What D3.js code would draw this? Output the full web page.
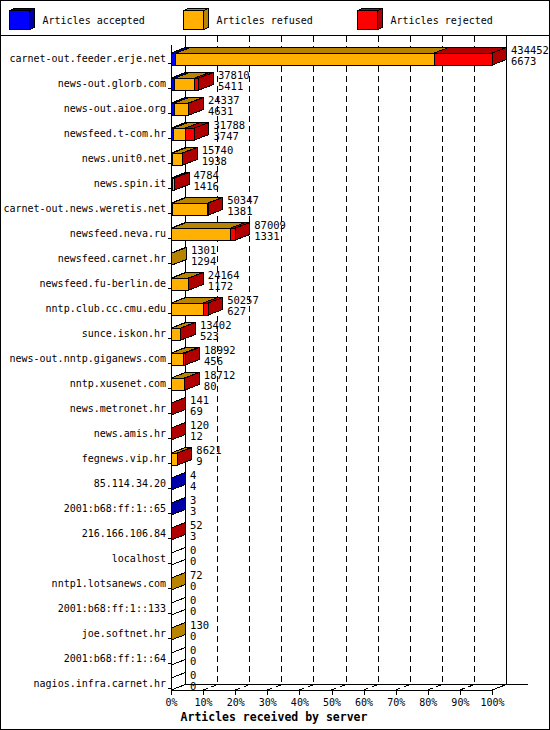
<!DOCTYPE html>
<html>
<head>
<meta charset="utf-8">
<script src="https://cdn.jsdelivr.net/npm/d3@7"></script>
<style>
    body { margin: 0; background: #fff; }
    text { font-family: "DejaVu Sans Mono", monospace; font-size: 10px; fill: #000; }
</style>
</head>
<body>
<svg id="chart" width="550" height="730"></svg>
<script>
// servers, sorted by accepted articles
const servers = [
    "carnet-out.feeder.erje.net", "news-out.glorb.com", "news-out.aioe.org",
    "newsfeed.t-com.hr", "news.unit0.net", "news.spin.it",
    "carnet-out.news.weretis.net", "newsfeed.neva.ru", "newsfeed.carnet.hr",
    "newsfeed.fu-berlin.de", "nntp.club.cc.cmu.edu", "sunce.iskon.hr",
    "news-out.nntp.giganews.com", "nntp.xusenet.com", "news.metronet.hr",
    "news.amis.hr", "fegnews.vip.hr", "85.114.34.20", "2001:b68:ff:1::65",
    "216.166.106.84", "localhost", "nntp1.lotsanews.com", "2001:b68:ff:1::133",
    "joe.softnet.hr", "2001:b68:ff:1::64", "nagios.infra.carnet.hr"
];
// numbers printed next to the bars
const offered = [434452, 37810, 24337, 31788, 15740, 4784, 50347, 87009, 1301,
    24164, 50257, 13402, 18992, 18712, 141, 120, 8621, 4, 3, 52, 0, 72, 0, 130, 0, 0];
const accepted = [6673, 5411, 4631, 3747, 1938, 1416, 1381, 1331, 1294,
    1172, 627, 523, 456, 80, 69, 12, 9, 4, 3, 3, 0, 0, 0, 0, 0, 0];
// split of the rest
const refused = [349500, 27000, 19200, 16000, 13300, 3000, 48500, 79500, 7,
    22500, 42800, 12500, 16500, 18200, 0, 0, 8200, 0, 0, 0, 0, 72, 0, 130, 0, 0];
const rejected = [78279, 5399, 506, 12041, 502, 368, 466, 6178, 0,
    492, 6830, 379, 2036, 432, 72, 108, 412, 0, 0, 49, 0, 0, 0, 0, 0, 0];
const pctTicks = [0, 10, 20, 30, 40, 50, 60, 70, 80, 90, 100];

const keys = ["accepted", "refused", "rejected"];
const legendNames = ["Articles accepted", "Articles refused", "Articles rejected"];
const fronts = { accepted: "#0000ff", refused: "#ffb000", rejected: "#ff0000" };
const darks = { accepted: "#0000a8", refused: "#b88400", rejected: "#b00000" };

const DX = 14.5, DY = -5.5, BAR_H = 12;
const floorY = 690;

const svg = d3.select("#chart").attr("shape-rendering", "crispEdges");

svg.append("rect").attr("width", 550).attr("height", 730).attr("fill", "#fff");
svg.append("rect").attr("x", 0.5).attr("y", 0.5).attr("width", 549).attr("height", 729)
    .attr("fill", "none").attr("stroke", "#000");

// legend
svg.append("line").attr("x1", 0).attr("x2", 550).attr("y1", 35.5).attr("y2", 35.5).attr("stroke", "#000");
const legend = svg.append("g")
    .selectAll("g")
    .data(keys)
    .join("g")
    .attr("transform", (d, i) => `translate(${9.5 + i * 174}, 10.5)`);
legend.append("polygon")
    .attr("points", `0,0 5,-2 25,-2 20,0`)
    .attr("fill", (d) => darks[d]).attr("stroke", "#000");
legend.append("polygon")
    .attr("points", `20,0 25,-2 25,17 20,19`)
    .attr("fill", (d) => darks[d]).attr("stroke", "#000");
legend.append("rect")
    .attr("width", 20).attr("height", 19)
    .attr("fill", (d) => fronts[d]).attr("stroke", "#000");
legend.append("text")
    .attr("x", 33).attr("y", 13.5)
    .text((d, i) => legendNames[i]);

// scales
const x = d3.scaleLinear().domain([0, d3.max(offered)]).range([171, 492]);
const pct = d3.scaleLinear().domain([0, 100]).range([171, 492]);
const y = d3.scaleBand().domain(servers).range([46.5, 696.5]);
const cy = (s) => y(s) + y.bandwidth() / 2;

// back walls and grid
svg.append("line").attr("x1", 171 + DX).attr("x2", 171 + DX).attr("y1", 36).attr("y2", floorY + DY).attr("stroke", "#000");
svg.append("line").attr("x1", 492 + DX).attr("x2", 492 + DX).attr("y1", 36).attr("y2", floorY + DY).attr("stroke", "#000");
svg.append("g")
    .selectAll("line")
    .data(pctTicks.slice(1, -1))
    .join("line")
    .attr("x1", (d) => pct(d) + DX).attr("x2", (d) => pct(d) + DX)
    .attr("y1", 36).attr("y2", floorY + DY)
    .attr("stroke", "#000").attr("stroke-dasharray", "6,4");

// floor
svg.append("line").attr("x1", 171 + DX).attr("x2", 528).attr("y1", floorY + DY).attr("y2", floorY + DY).attr("stroke", "#000");
svg.append("g")
    .selectAll("line")
    .data(pctTicks)
    .join("line")
    .attr("x1", (d) => pct(d)).attr("y1", floorY)
    .attr("x2", (d) => pct(d) + DX).attr("y2", floorY + DY)
    .attr("stroke", "#000")
    .attr("stroke-dasharray", (d) => (d === 0 || d === 100 ? null : "5,4"));

// front left axis
svg.append("line").attr("x1", 171).attr("x2", 171).attr("y1", 45).attr("y2", floorY).attr("stroke", "#000");

const xAxis = svg.append("g")
    .attr("transform", `translate(0, ${floorY})`)
    .call(d3.axisBottom(pct).tickValues(pctTicks).tickSize(5).tickSizeOuter(0).tickFormat((d) => d + "%"));
xAxis.attr("font-family", null).attr("font-size", null);
xAxis.selectAll("text").attr("y", 9);

const yAxis = svg.append("g")
    .attr("transform", "translate(171, 0)")
    .call(d3.axisLeft(y).tickSize(3).tickPadding(2).tickSizeOuter(0));
yAxis.attr("font-family", null).attr("font-size", null);
yAxis.select(".domain").remove();
// ticks sit a little below the label middle
yAxis.selectAll(".tick line").attr("y1", 4).attr("y2", 4);

svg.append("text")
    .attr("x", 274).attr("y", 721)
    .attr("text-anchor", "middle")
    .style("font-weight", "bold").style("font-size", "11.5px")
    .text("Articles received by server");

// stacked 3D bars
const rows = servers.map((s, i) => ({
    server: s,
    offered: offered[i],
    accepted: accepted[i],
    refused: refused[i],
    rejected: rejected[i],
}));
const series = d3.stack().keys(keys)(rows);

const bars = svg.append("g");
rows.forEach((r, i) => {
    const yt = cy(r.server) - BAR_H / 2;
    const yb = yt + BAR_H;
    const g = bars.append("g");
    let last = null;
    series.forEach((sr) => {
        const [v0, v1] = sr[i];
        if (v1 - v0 <= 0) return;
        const x0 = x(v0), x1 = x(v1);
        g.append("rect")
            .attr("x", x0).attr("y", yt)
            .attr("width", x1 - x0).attr("height", BAR_H)
            .attr("fill", fronts[sr.key]).attr("stroke", "#000");
        g.append("polygon")
            .attr("points", [[x0, yt], [x0 + DX, yt + DY], [x1 + DX, yt + DY], [x1, yt]].join(" "))
            .attr("fill", darks[sr.key]).attr("stroke", "#000");
        last = sr.key;
    });
    const xe = x(d3.sum(keys, (k) => r[k]));
    g.append("polygon")
        .attr("points", [[xe, yt], [xe + DX, yt + DY], [xe + DX, yb + DY], [xe, yb]].join(" "))
        .attr("fill", last ? darks[last] : "#fff").attr("stroke", "#000");

    const lx = x(r.offered) + 19;
    g.append("text").attr("x", lx).attr("y", cy(r.server) - 5).style("font-size", "10.5px").text(r.offered);
    g.append("text").attr("x", lx).attr("y", cy(r.server) + 6).style("font-size", "10.5px").text(r.accepted);
});
</script>
</body>
</html>
